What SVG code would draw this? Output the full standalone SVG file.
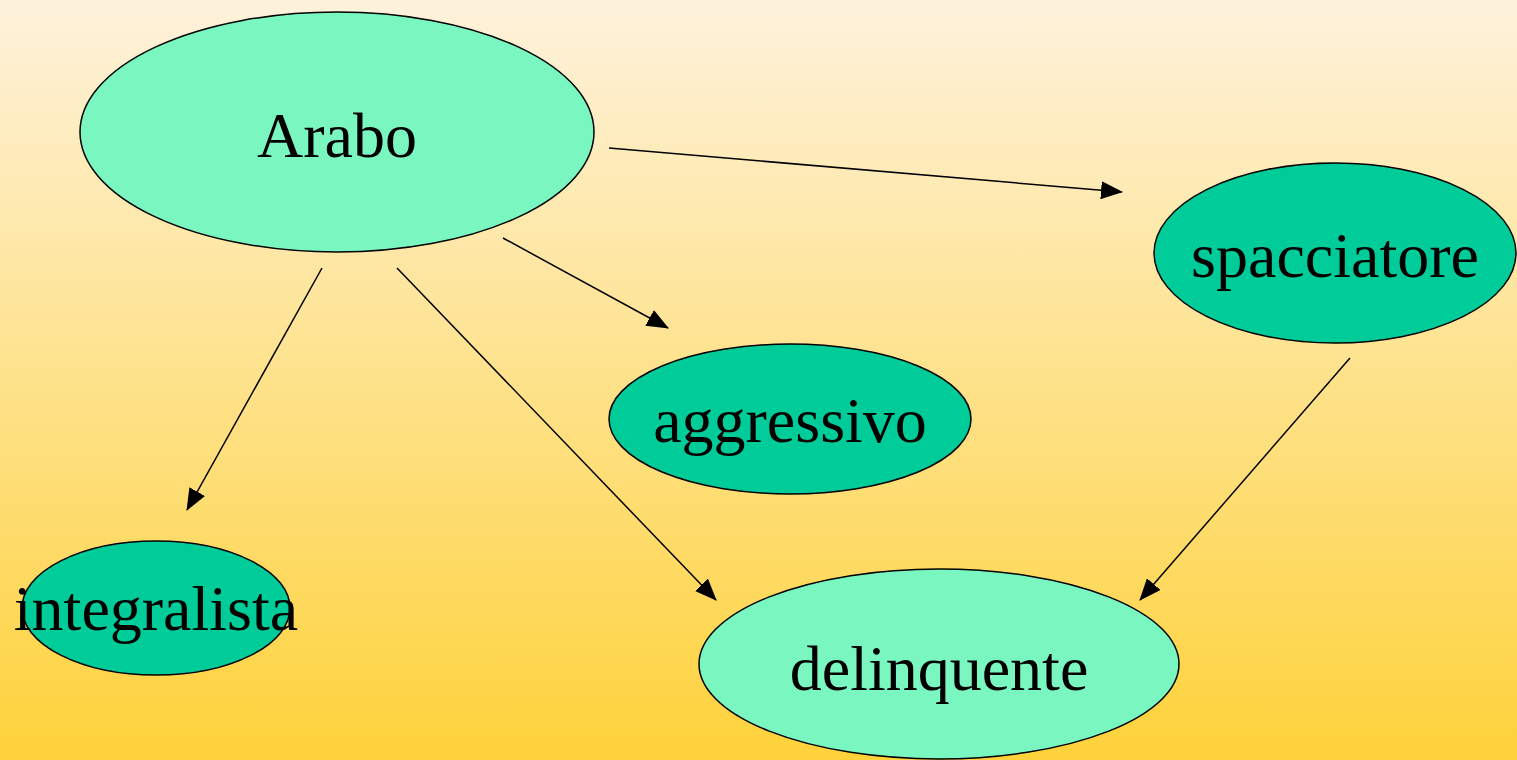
<svg xmlns="http://www.w3.org/2000/svg" width="1517" height="760" viewBox="0 0 1517 760">
<defs>
<linearGradient id="bg" x1="0" y1="0" x2="0" y2="1">
<stop offset="0" stop-color="#FEF2DC"/>
<stop offset="1" stop-color="#FED23A"/>
</linearGradient>
<marker id="ah" markerUnits="userSpaceOnUse" markerWidth="22" markerHeight="18" viewBox="0 0 22 18" refX="21" refY="9" orient="auto">
<path d="M0,0 L22,9 L0,18 Z" fill="#000"/>
</marker>
<style>
.n ellipse{stroke:#000;stroke-width:1.5}
.light{fill:#7AF7C0}
.dark{fill:#00CC99}
.n text{font-family:"Liberation Serif","Times New Roman",serif;font-size:64px;fill:#000;text-anchor:middle}
.c line{stroke:#000;stroke-width:1.5;marker-end:url(#ah)}
</style>
</defs>
<rect width="1517" height="760" fill="url(#bg)"/>
<g id="arabo" class="n"><ellipse class="light" cx="337" cy="132" rx="257" ry="120"/><text x="337" y="157">Arabo</text></g>
<g id="spacciatore" class="n"><ellipse class="dark" cx="1335" cy="253" rx="181" ry="90"/><text x="1335" y="277">spacciatore</text></g>
<g id="aggressivo" class="n"><ellipse class="dark" cx="790" cy="419" rx="181" ry="75"/><text x="790" y="442">aggressivo</text></g>
<g id="integralista" class="n"><ellipse class="dark" cx="156" cy="608" rx="134" ry="67"/><text x="156" y="630">integralista</text></g>
<g id="delinquente" class="n"><ellipse class="light" cx="939" cy="664" rx="240" ry="95"/><text x="939" y="690">delinquente</text></g>
<g id="connectors" class="c">
<line x1="609" y1="148" x2="1122" y2="192"/>
<line x1="503" y1="238" x2="668" y2="328"/>
<line x1="322" y1="268" x2="187" y2="510"/>
<line x1="397" y1="268" x2="716" y2="600"/>
<line x1="1350" y1="358" x2="1140" y2="600"/>
</g>
</svg>
